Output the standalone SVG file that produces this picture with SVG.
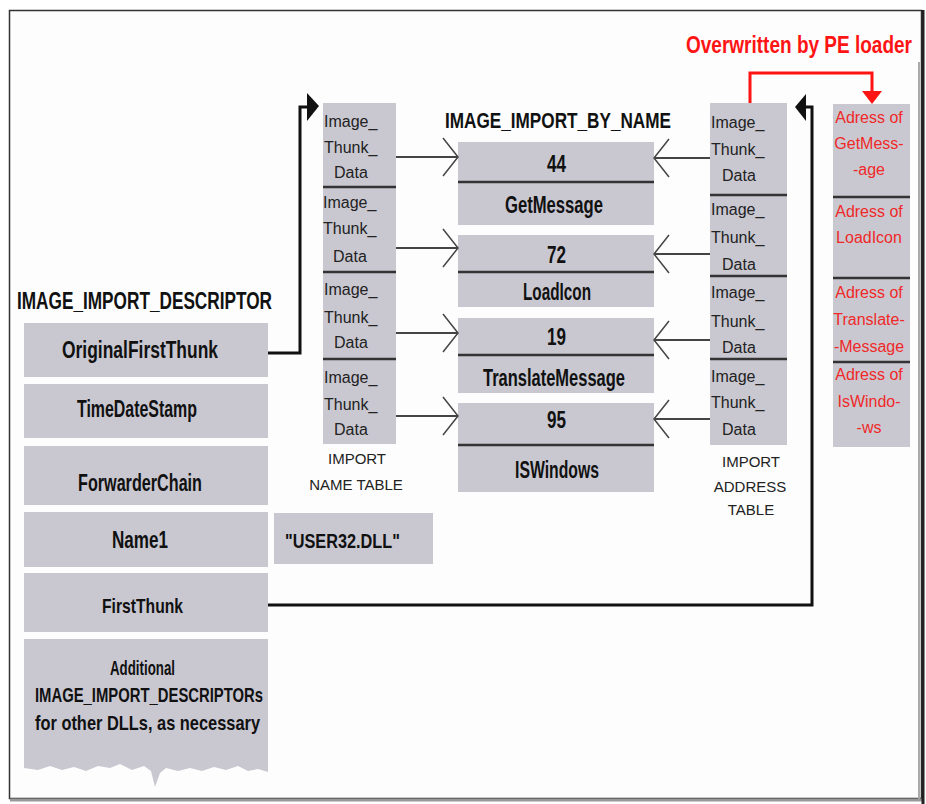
<svg xmlns="http://www.w3.org/2000/svg" width="926" height="804" viewBox="0 0 926 804">
<defs>
<style>
.box{fill:#c9c8d1}
.sep{stroke:#333;stroke-width:2.5}
.b{font-family:"Liberation Sans",Arial,sans-serif;font-weight:bold;font-size:23px;fill:#111}
.t{font-family:"Liberation Sans",Arial,sans-serif;font-size:16px;fill:#222}
.l{font-family:"Liberation Sans",Arial,sans-serif;font-size:15px;fill:#222;text-anchor:middle}
.r{font-family:"Liberation Sans",Arial,sans-serif;font-size:16px;fill:#f02828;text-anchor:middle}
.thin{stroke:#444;stroke-width:2;fill:none}
.chev{stroke:#444;stroke-width:1.5;fill:none}
.thick{stroke:#111;stroke-width:3;fill:none}
</style>
</defs>
<rect width="926" height="804" fill="#fff"/>
<g id="frame">
<rect x="9.5" y="10.5" width="912" height="788" fill="#fcfdfc" stroke="#333" stroke-width="1.5"/>
<line x1="919" y1="62" x2="919" y2="799" stroke="#aaa" stroke-width="2"/>
<line x1="10" y1="800" x2="922" y2="800" stroke="#999" stroke-width="3"/>
</g>

<g id="descriptor">
<text class="b" x="17" y="309" textLength="255" lengthAdjust="spacingAndGlyphs">IMAGE_IMPORT_DESCRIPTOR</text>
<g id="oft"><rect class="box" x="24" y="323" width="244" height="54"/><text class="b" x="62" y="358" textLength="156" lengthAdjust="spacingAndGlyphs">OriginalFirstThunk</text></g>
<g id="tds"><rect class="box" x="24" y="384" width="244" height="54"/><text class="b" x="77" y="417" textLength="120" lengthAdjust="spacingAndGlyphs">TimeDateStamp</text></g>
<g id="fc"><rect class="box" x="24" y="446" width="244" height="59"/><text class="b" x="78" y="491" textLength="124" lengthAdjust="spacingAndGlyphs">ForwarderChain</text></g>
<g id="name1"><rect class="box" x="24" y="512" width="244" height="55"/><text class="b" x="112" y="548" textLength="56" lengthAdjust="spacingAndGlyphs">Name1</text></g>
<g id="ft"><rect class="box" x="24" y="573" width="244" height="59"/><text class="b" x="102" y="613" textLength="81" lengthAdjust="spacingAndGlyphs" style="font-size:21px">FirstThunk</text></g>
<g id="additional">
<path class="box" d="M24,639 H268 V772 L258,769 L248,771 L238,766 L226,770 L214,767 L202,771 L190,768 L178,771 L166,768 L160,773 L155,787 L151,771 L144,766 L132,770 L120,764 L110,768 L98,766 L86,771 L74,767 L62,770 L50,766 L38,770 L24,768 Z"/>
<text class="b" x="110" y="675" textLength="65" lengthAdjust="spacingAndGlyphs" style="font-size:21px">Additional</text>
<text class="b" x="35" y="702" textLength="228" lengthAdjust="spacingAndGlyphs" style="font-size:21px">IMAGE_IMPORT_DESCRIPTORs</text>
<text class="b" x="35" y="730" textLength="225" lengthAdjust="spacingAndGlyphs" style="font-size:21px">for other DLLs, as necessary</text>
</g>
</g>

<g id="dllname"><rect class="box" x="274" y="513" width="159" height="51"/><text class="b" x="285" y="548" textLength="115" lengthAdjust="spacingAndGlyphs" style="font-size:21px">"USER32.DLL"</text></g>

<g id="int">
<rect class="box" x="323" y="103" width="73" height="341"/>
<line class="sep" x1="323" y1="187" x2="396" y2="187"/>
<line class="sep" x1="323" y1="272" x2="396" y2="272"/>
<line class="sep" x1="323" y1="359" x2="396" y2="359"/>
<text class="t" x="324" y="127">Image_</text><text class="t" x="324" y="153">Thunk_</text><text class="t" x="334" y="178">Data</text>
<text class="t" x="323" y="208">Image_</text><text class="t" x="323" y="234">Thunk_</text><text class="t" x="333" y="262">Data</text>
<text class="t" x="324" y="295">Image_</text><text class="t" x="324" y="323">Thunk_</text><text class="t" x="334" y="348">Data</text>
<text class="t" x="324" y="383">Image_</text><text class="t" x="324" y="410">Thunk_</text><text class="t" x="334" y="435">Data</text>
<text class="l" x="357" y="464">IMPORT</text>
<text class="l" x="356" y="490">NAME TABLE</text>
</g>

<g id="ibn">
<text class="b" x="445" y="128" textLength="226" lengthAdjust="spacingAndGlyphs" style="font-size:22px">IMAGE_IMPORT_BY_NAME</text>
<g id="ibn1"><rect class="box" x="458" y="142" width="196" height="83"/><line class="sep" x1="458" y1="182" x2="654" y2="182"/>
<text class="b" x="547" y="172" textLength="19" lengthAdjust="spacingAndGlyphs">44</text>
<text class="b" x="505" y="213" textLength="98" lengthAdjust="spacingAndGlyphs">GetMessage</text></g>
<g id="ibn2"><rect class="box" x="458" y="235" width="196" height="72"/><line class="sep" x1="458" y1="272" x2="654" y2="272"/>
<text class="b" x="547" y="263" textLength="19" lengthAdjust="spacingAndGlyphs">72</text>
<text class="b" x="523" y="300" textLength="68" lengthAdjust="spacingAndGlyphs">LoadIcon</text></g>
<g id="ibn3"><rect class="box" x="458" y="318" width="196" height="75"/><line class="sep" x1="458" y1="355" x2="654" y2="355"/>
<text class="b" x="547" y="345" textLength="19" lengthAdjust="spacingAndGlyphs">19</text>
<text class="b" x="483" y="386" textLength="142" lengthAdjust="spacingAndGlyphs">TranslateMessage</text></g>
<g id="ibn4"><rect class="box" x="458" y="403" width="196" height="89"/><line class="sep" x1="458" y1="445" x2="654" y2="445"/>
<text class="b" x="547" y="428" textLength="19" lengthAdjust="spacingAndGlyphs">95</text>
<text class="b" x="515" y="478" textLength="84" lengthAdjust="spacingAndGlyphs">ISWindows</text></g>
</g>

<g id="iat">
<rect class="box" x="710" y="103" width="77" height="342"/>
<line class="sep" x1="710" y1="195" x2="787" y2="195"/>
<line class="sep" x1="710" y1="276" x2="787" y2="276"/>
<line class="sep" x1="710" y1="359" x2="787" y2="359"/>
<text class="t" x="711" y="128">Image_</text><text class="t" x="711" y="155">Thunk_</text><text class="t" x="722" y="181">Data</text>
<text class="t" x="711" y="215">Image_</text><text class="t" x="711" y="243">Thunk_</text><text class="t" x="722" y="270">Data</text>
<text class="t" x="711" y="298">Image_</text><text class="t" x="711" y="327">Thunk_</text><text class="t" x="722" y="353">Data</text>
<text class="t" x="711" y="382">Image_</text><text class="t" x="711" y="408">Thunk_</text><text class="t" x="722" y="435">Data</text>
<text class="l" x="751" y="467">IMPORT</text>
<text class="l" x="750" y="492">ADDRESS</text>
<text class="l" x="751" y="515">TABLE</text>
</g>

<g id="addresses">
<rect class="box" x="833" y="104" width="77" height="343"/>
<line class="sep" x1="833" y1="197" x2="910" y2="197"/>
<line class="sep" x1="833" y1="278" x2="910" y2="278"/>
<line class="sep" x1="833" y1="362" x2="910" y2="362"/>
<text class="r" x="869" y="123">Adress of</text><text class="r" x="869" y="149">GetMess-</text><text class="r" x="869" y="175">-age</text>
<text class="r" x="869" y="217">Adress of</text><text class="r" x="869" y="243">LoadIcon</text>
<text class="r" x="869" y="298">Adress of</text><text class="r" x="869" y="325">Translate-</text><text class="r" x="869" y="352">-Message</text>
<text class="r" x="869" y="380">Adress of</text><text class="r" x="869" y="407">IsWindo-</text><text class="r" x="869" y="433">-ws</text>
</g>

<g id="pe-label">
<text x="686" y="53" textLength="226" lengthAdjust="spacingAndGlyphs" style="font-family:'Liberation Sans',Arial,sans-serif;font-weight:bold;font-size:23px;fill:#ff1414">Overwritten by PE loader</text>
</g>

<g id="connectors">
<path class="thin" d="M396,157 H457"/><path class="chev" d="M443,138 L458,157 L443,176"/>
<path class="thin" d="M396,248 H457"/><path class="chev" d="M443,229 L458,248 L443,267"/>
<path class="thin" d="M396,333 H457"/><path class="chev" d="M443,314 L458,333 L443,352"/>
<path class="thin" d="M396,416 H457"/><path class="chev" d="M443,397 L458,416 L443,435"/>
<path class="thin" d="M710,158 H655"/><path class="chev" d="M669,139 L654,158 L669,177"/>
<path class="thin" d="M710,254 H655"/><path class="chev" d="M669,235 L654,254 L669,273"/>
<path class="thin" d="M710,340 H655"/><path class="chev" d="M669,321 L654,340 L669,359"/>
<path class="thin" d="M710,419 H655"/><path class="chev" d="M669,400 L654,419 L669,438"/>
<path class="thick" d="M268,353 H300 V107 H309"/>
<polygon points="307,93 319,106 307,121" fill="#111"/>
<path class="thick" d="M268,605 H812 V107 H804"/>
<polygon points="806,94 795,107 806,121" fill="#111"/>
<path d="M750,103 V73 H872 V92" fill="none" stroke="#ff1414" stroke-width="3"/>
<polygon points="862,91 882,91 872,104" fill="#ff1414"/>
</g>
<line x1="923" y1="10" x2="923" y2="804" stroke="#222" stroke-width="3"/>
</svg>
